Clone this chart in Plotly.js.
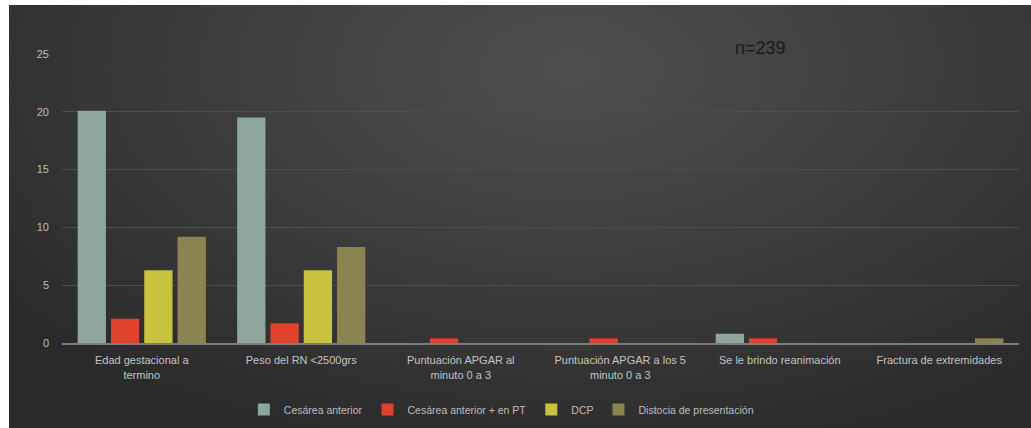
<!DOCTYPE html>
<html>
<head>
<meta charset="utf-8">
<script src="https://cdn.plot.ly/plotly-3.0.1.min.js"></script>
<style>
  html, body { margin: 0; padding: 0; background: #ffffff; }
  #wrap { position: relative; width: 1031px; height: 428px; background: #ffffff; }
  #bg { position: absolute; left: 9px; top: 5px; width: 1022px; height: 423px;
        background: radial-gradient(ellipse 70% 95% at 55% 15%, #4f4f4f 0%, #414141 40%, #2a2a2a 100%); }
  #chart { position: absolute; left: 0; top: 0; width: 1031px; height: 428px; }
</style>
</head>
<body>
<div id="wrap">
  <div id="bg"></div>
  <div id="chart"></div>
</div>
<script>
const categories = [
  "Edad gestacional a<br>termino",
  "Peso del RN &lt;2500grs",
  "Puntuación APGAR al<br>minuto 0 a 3",
  "Puntuación APGAR a los 5<br>minuto 0 a 3",
  "Se le brindo reanimación",
  "Fractura de extremidades"
];
const seriesNames = ["Cesárea anterior", "Cesárea anterior + en PT", "DCP", "Distocia de presentación"];
const cesareaAnterior = [20.1, 19.5, 0, 0, 0.8, 0];
const cesareaAnteriorPT = [2.1, 1.7, 0.4, 0.4, 0.4, 0];
const dcp = [6.3, 6.3, 0, 0, 0, 0];
const distocia = [9.2, 8.3, 0, 0, 0, 0.4];
const yTicks = [0, 5, 10, 15, 20, 25];
const annotationText = "n=239";

const colors = ["#8ea69c", "#e0422b", "#c9c23f", "#8a8450"];
const values = [cesareaAnterior, cesareaAnteriorPT, dcp, distocia];

const traces = values.map((v, i) => ({
  type: "bar",
  name: seriesNames[i],
  x: categories,
  y: v,
  marker: { color: colors[i], line: { width: 0 } },
  hoverinfo: "skip"
}));

const layout = {
  width: 1031, height: 428,
  paper_bgcolor: "rgba(0,0,0,0)",
  plot_bgcolor: "rgba(0,0,0,0)",
  margin: { l: 62, r: 12, t: 54, b: 85, autoexpand: false },
  barmode: "group",
  bargap: 0.165,
  bargroupgap: 0.15,
  font: { family: "Liberation Sans Narrow, Liberation Sans, sans-serif", size: 10, color: "#bdbdbd" },
  xaxis: {
    type: "category",
    showgrid: false,
    showline: true, linecolor: "#7d7d7d", linewidth: 2,
    ticks: "", tickfont: { size: 11, color: "#c4c4c4" },
    ticklabelstandoff: 6,
    zeroline: false
  },
  yaxis: {
    range: [0, 25],
    tickvals: yTicks,
    showgrid: true, gridcolor: "#4e4e4e", gridwidth: 1,
    zeroline: false, showline: false,
    ticks: "", ticklen: 0,
    tickfont: { size: 11, color: "#bdbdbd" },
    ticklabelstandoff: 12
  },
  legend: {
    orientation: "h",
    x: 0.19, xanchor: "left",
    y: -0.23, yanchor: "middle",
    font: { size: 10.5, color: "#bdbdbd" },
    bgcolor: "rgba(0,0,0,0)",
    itemwidth: 30,
    traceorder: "normal"
  },
  annotations: [{
    text: annotationText,
    xref: "paper", yref: "paper",
    x: 0.701, y: 1.02, xanchor: "left", yanchor: "middle",
    showarrow: false,
    font: { family: "Liberation Sans Narrow, Liberation Sans, sans-serif", size: 18, color: "#1a1a1a" }
  }],
  showlegend: true
};

Plotly.newPlot("chart", traces, layout, { displayModeBar: false, staticPlot: true });
</script>
</body>
</html>
